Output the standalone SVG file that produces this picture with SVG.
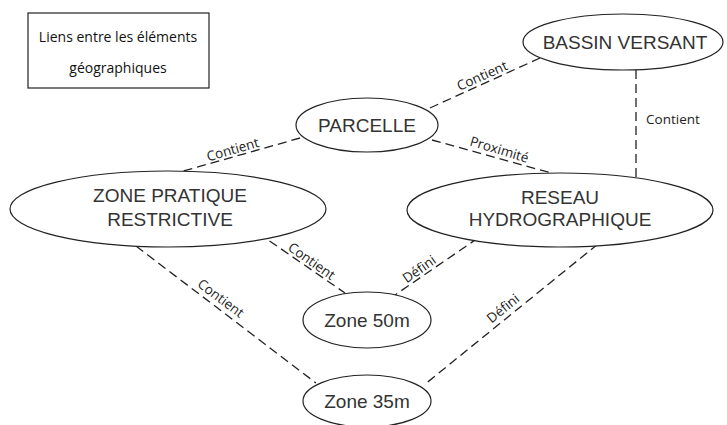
<svg xmlns="http://www.w3.org/2000/svg" width="727" height="425" viewBox="0 0 727 425">
<style>
.n{fill:#fff;stroke:#222;stroke-width:1.2}
.t{font-family:"Liberation Sans",Arial,sans-serif;font-size:19px;fill:#333;text-anchor:middle}
.c{stroke:#222;stroke-width:1.3;stroke-dasharray:9,5;fill:none}
.l{font-family:"Open Sans",Lato,sans-serif;font-size:13.5px;fill:#222;text-anchor:middle}
.h{font-family:"Open Sans",Lato,sans-serif;font-size:14px;fill:#111;text-anchor:middle}
</style>
<rect width="727" height="425" fill="#fff"/>
<g id="connectors">
<line class="c" x1="430" y1="108" x2="540" y2="58"/>
<line class="c" x1="636" y1="70" x2="636" y2="183"/>
<line class="c" x1="300" y1="138" x2="180" y2="172"/>
<line class="c" x1="432" y1="140" x2="555" y2="174"/>
<line class="c" x1="136" y1="246" x2="316" y2="383"/>
<line class="c" x1="258" y1="233" x2="345" y2="293"/>
<line class="c" x1="478" y1="238" x2="395" y2="295"/>
<line class="c" x1="598" y1="244" x2="424" y2="385"/>
<text class="l" transform="translate(484,80) rotate(-24)">Contient</text>
<text class="l" x="673" y="124">Contient</text>
<text class="l" transform="translate(234,154) rotate(-16)">Contient</text>
<text class="l" transform="translate(498,154) rotate(17)">Proximité</text>
<text class="l" transform="translate(218,302) rotate(37)">Contient</text>
<text class="l" transform="translate(309,265) rotate(35)">Contient</text>
<text class="l" transform="translate(422,273) rotate(-35)">Défini</text>
<text class="l" transform="translate(506,312) rotate(-39)">Défini</text>
</g>
<g id="title">
<rect x="28" y="13" width="181" height="75" fill="#fff" stroke="#222" stroke-width="1.2"/>
<text class="h" x="118" y="42">Liens entre les éléments</text>
<text class="h" x="118" y="73">géographiques</text>
</g>
<g id="bassin"><ellipse class="n" cx="623" cy="42" rx="100" ry="28"/><text class="t" x="625" y="49">BASSIN VERSANT</text></g>
<g id="parcelle"><ellipse class="n" cx="367" cy="125" rx="71" ry="27"/><text class="t" x="367" y="132">PARCELLE</text></g>
<g id="zpr"><ellipse class="n" cx="168" cy="209" rx="158" ry="38"/><text class="t" x="170" y="202">ZONE PRATIQUE</text><text class="t" x="170" y="226">RESTRICTIVE</text></g>
<g id="reseau"><ellipse class="n" cx="560" cy="210" rx="153" ry="37"/><text class="t" x="560" y="204">RESEAU</text><text class="t" x="560" y="226">HYDROGRAPHIQUE</text></g>
<g id="z50"><ellipse class="n" cx="367" cy="320" rx="64" ry="28"/><text class="t" x="367" y="327">Zone 50m</text></g>
<g id="z35"><ellipse class="n" cx="367" cy="401" rx="64" ry="26"/><text class="t" x="367" y="408">Zone 35m</text></g>
</svg>
